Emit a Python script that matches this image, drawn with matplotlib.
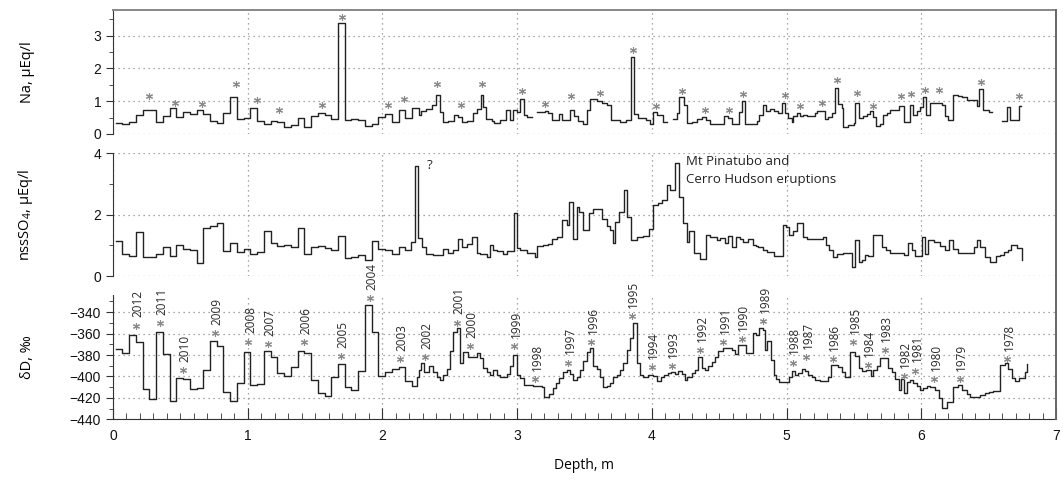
import numpy as np
import matplotlib.pyplot as plt
from matplotlib.lines import Line2D
from matplotlib.ticker import MultipleLocator

plt.rcParams['font.family'] = ['Liberation Sans', 'DejaVu Sans']
plt.rcParams['mathtext.default'] = 'regular'
LABEL_FONT = ['Open Sans', 'DejaVu Sans']

# ---- Na, ueq/l (step series: top depth of each sample, value) ----
na_depth = [0.02, 0.07, 0.12, 0.17, 0.22, 0.27, 0.32, 0.37, 0.42, 0.47,
            0.52, 0.57, 0.62, 0.67, 0.72, 0.77, 0.82, 0.87, 0.92, 0.97,
            1.02, 1.07, 1.12, 1.17, 1.22, 1.27, 1.32, 1.37, 1.42, 1.47,
            1.52, 1.57, 1.62, 1.67, 1.72, 1.77, 1.82, 1.87, 1.92, 1.97,
            2.02, 2.07, 2.12, 2.17, 2.22,
            2.27, 2.29, 2.32, 2.37, 2.40, 2.43, 2.45, 2.49, 2.53, 2.56,
            2.59, 2.63, 2.67, 2.70, 2.73, 2.75, 2.77, 2.81, 2.83, 2.87,
            2.92, 2.95, 2.97, 3.00, 3.02, 3.05, 3.07, 3.11, 3.15, 3.21,
            3.23, 3.26, 3.31, 3.33, 3.39, 3.42, 3.455, 3.49, 3.515, 3.54,
            3.59, 3.63, 3.665, 3.70, 3.765, 3.81, 3.843, 3.868, 3.90, 3.957,
            3.987, 4.007, 4.041, 4.086, 4.111, 4.16, 4.185, 4.205, 4.239, 4.259,
            4.296, 4.333, 4.37, 4.403, 4.432, 4.477, 4.536, 4.568, 4.593, 4.65,
            4.67, 4.69, 4.742, 4.779, 4.799, 4.823, 4.848, 4.878, 4.903, 4.94,
            4.964, 4.989, 5.014, 5.039, 5.051, 5.076, 5.101, 5.125, 5.15, 5.212,
            5.224, 5.286, 5.311, 5.336, 5.36, 5.385, 5.41, 5.422, 5.459, 5.497,
            5.509, 5.534, 5.571, 5.596, 5.62, 5.645, 5.665, 5.695, 5.714, 5.744,
            5.769, 5.806, 5.838, 5.868, 5.917, 5.937, 5.967, 5.992, 6.016, 6.036,
            6.066, 6.098, 6.152, 6.177, 6.202, 6.239, 6.276, 6.301, 6.338, 6.412,
            6.432, 6.457, 6.499, 6.524, 6.598, 6.635, 6.66, 6.722]
na_val = [0.34, 0.32, 0.38, 0.58, 0.72, 0.72, 0.36, 0.54, 0.78, 0.52,
          0.67, 0.62, 0.73, 0.61, 0.40, 0.35, 0.64, 1.14, 0.46, 0.49,
          0.80, 0.40, 0.30, 0.39, 0.36, 0.20, 0.26, 0.49, 0.21, 0.54,
          0.64, 0.58, 0.47, 3.37, 0.42, 0.46, 0.43, 0.23, 0.31, 0.52,
          0.61, 0.36, 0.74, 0.48, 0.78,
          0.58, 0.69, 0.77, 0.89, 1.20, 0.67, 0.36, 0.39, 0.59, 0.52,
          0.38, 0.41, 0.64, 0.77, 1.20, 0.83, 0.46, 0.39, 0.34, 0.42,
          0.74, 0.42, 0.72, 0.66, 1.07, 0.59, 0.52, np.nan, 0.66, 0.71,
          0.64, 0.44, 0.62, 0.44, 0.72, 0.56, 0.39, 0.29, 0.74, 1.07,
          1.00, 0.93, 0.87, 0.44, 0.36, 0.44, 2.36, 0.62, 0.49, 0.44,
          0.31, 0.68, 0.58, 0.38, np.nan, 0.46, 0.64, 1.12, 0.87, 0.34,
          0.37, 0.46, 0.51, 0.42, 0.32, 0.29, 0.56, 0.49, 0.32, 0.66,
          1.00, 0.32, 0.31, 0.39, 0.59, 0.87, 0.69, 0.77, 0.69, 0.64,
          0.95, 0.64, 0.49, 0.36, 0.54, 0.64, 0.54, 0.59, 0.54, 0.64,
          0.69, 0.46, 0.52, 0.64, 1.41, 0.90, 0.80, 0.21, 0.26, 0.34,
          0.93, 0.49, 0.54, 0.61, 0.69, 0.52, 0.23, 0.29, 0.59, 0.64,
          0.74, 0.74, 0.85, 0.36, 0.89, 0.59, 0.69, 0.83, 1.13, 0.59,
          0.95, 0.93, 0.87, 0.54, 0.42, 1.18, 1.15, 1.13, 1.05, 0.85,
          1.36, 0.72, 0.66, np.nan, 0.39, 0.83, 0.44, 0.85]
na_end = 6.741

na_star_depth = [0.267, 0.458, 0.658, 0.913, 1.072, 1.233, 1.549, 1.703, 2.039, 2.161,
                 2.408, 2.581, 2.737, 3.034, 3.207, 3.400, 3.616, 3.863, 4.029, 4.224,
                 4.395, 4.573, 4.680, 4.989, 5.096, 5.261, 5.373, 5.526, 5.645, 5.848,
                 5.925, 6.029, 6.135, 6.442, 6.729]
na_star_val = [1.15, 0.93, 0.91, 1.51, 1.03, 0.72, 0.87, 3.58, 0.87, 1.08,
               1.51, 0.87, 1.51, 1.31, 0.90, 1.17, 1.26, 2.55, 0.85, 1.31,
               0.72, 0.72, 1.22, 1.20, 0.85, 0.93, 1.64, 1.26, 0.85, 1.17,
               1.23, 1.34, 1.34, 1.58, 1.17]

# ---- nssSO4, ueq/l ----
so4_depth = [0.02, 0.07, 0.12, 0.17, 0.22, 0.27, 0.32, 0.37, 0.42, 0.47,
             0.52, 0.57, 0.62, 0.67, 0.72, 0.77, 0.82, 0.87, 0.92, 0.97,
             1.02, 1.07, 1.12, 1.17, 1.22, 1.27, 1.32, 1.37, 1.42, 1.47,
             1.52, 1.57, 1.62, 1.67, 1.72, 1.77, 1.82, 1.87, 1.92, 1.97,
             2.02, 2.07, 2.12, 2.17,
             2.21, 2.24, 2.265, 2.295, 2.324, 2.378, 2.452, 2.489, 2.522, 2.564,
             2.588, 2.626, 2.663, 2.70, 2.725, 2.774, 2.799, 2.824, 2.853, 2.898,
             2.927, 2.977, 3.002, 3.021, 3.071, 3.133, 3.15, 3.19, 3.232, 3.257,
             3.299, 3.331, 3.368, 3.388, 3.418, 3.442, 3.462, 3.492, 3.536, 3.566,
             3.628, 3.665, 3.69, 3.71, 3.727, 3.759, 3.794, 3.814, 3.843, 3.888,
             3.932, 3.982, 4.007, 4.049, 4.073, 4.111, 4.135, 4.172, 4.205, 4.234,
             4.259, 4.279, 4.313, 4.358, 4.403, 4.432, 4.482, 4.507, 4.544, 4.568,
             4.593, 4.625, 4.655, 4.68, 4.717, 4.754, 4.774, 4.791, 4.828, 4.853,
             4.903, 4.972, 4.997, 5.021, 5.051, 5.081, 5.12, 5.15, 5.269, 5.294,
             5.318, 5.348, 5.373, 5.422, 5.484, 5.509, 5.534, 5.558, 5.583, 5.608,
             5.64, 5.707, 5.739, 5.769, 5.868, 5.905, 5.93, 5.954, 6.004, 6.029,
             6.053, 6.091, 6.14, 6.177, 6.209, 6.239, 6.276, 6.338, 6.388, 6.417,
             6.437, 6.474, 6.511, 6.556, 6.581, 6.615, 6.647, 6.665, 6.709]
so4_val = [1.15, 0.71, 0.64, 1.43, 0.63, 0.62, 0.73, 0.95, 0.64, 1.02,
           0.88, 0.84, 0.43, 1.55, 1.63, 1.74, 0.83, 1.07, 0.78, 0.89,
           0.71, 0.79, 1.48, 1.09, 0.97, 1.00, 0.93, 1.57, 0.72, 0.96,
           0.98, 0.91, 0.85, 1.30, 0.58, 0.61, 0.67, 0.52, 1.14, 0.89,
           0.84, 0.73, 0.96, 0.85,
           1.10, 3.59, 1.23, 0.96, 0.71, 0.67, 0.87, 0.76, 0.85, 1.22,
           0.96, 1.03, 1.28, 0.74, 0.71, 0.61, 1.01, 0.85, 0.80, 0.73,
           0.82, 2.04, 0.90, 0.85, 0.74, 0.61, 0.98, 1.02, 1.04, 1.20,
           1.28, 1.83, 1.66, 2.40, 1.22, 2.26, 2.10, 1.50, 2.04, 2.18,
           1.85, 1.63, 1.50, 1.07, 1.77, 2.10, 2.80, 1.93, 1.17, 1.28,
           1.30, 1.52, 2.32, 2.37, 2.48, 2.97, 2.80, 3.67, 2.59, 1.72,
           1.12, 1.48, 0.74, 0.54, 1.34, 1.28, 1.17, 1.23, 1.07, 1.30,
           0.96, 1.28, 1.20, 1.10, 1.20, 1.02, 0.98, 0.96, 0.85, 0.78,
           0.65, 1.66, 1.59, 1.34, 1.48, 1.72, 1.26, 1.20, 1.26, 1.01,
           0.85, 0.63, 0.71, 0.76, 0.30, 1.17, 0.47, 0.52, 0.68, 0.65,
           1.34, 0.96, 0.85, 0.76, 0.68, 1.07, 0.85, 0.65, 1.28, 0.72,
           1.17, 1.12, 0.98, 0.85, 1.17, 0.87, 0.74, 0.76, 0.96, 1.17,
           0.96, 0.63, 0.47, 0.65, 0.68, 0.79, 0.85, 1.01, 0.90]
so4_end = 6.746
so4_last = 0.52

# ---- deltaD, permil ----
dd_depth = [0.02, 0.07, 0.12, 0.17, 0.22, 0.27, 0.32, 0.37, 0.42, 0.47,
            0.52, 0.57, 0.62, 0.67, 0.72, 0.77, 0.82, 0.87, 0.92, 0.97,
            1.02, 1.07, 1.12, 1.17, 1.22, 1.27, 1.32, 1.37, 1.42, 1.47,
            1.52, 1.57, 1.62, 1.67, 1.72, 1.77, 1.82, 1.87, 1.92, 1.97,
            2.02, 2.07, 2.12, 2.17,
            2.22, 2.255, 2.27, 2.285, 2.309, 2.348, 2.378, 2.403, 2.428, 2.452,
            2.477, 2.502, 2.527, 2.551, 2.576, 2.601, 2.638, 2.70, 2.725, 2.749,
            2.774, 2.799, 2.824, 2.848, 2.873, 2.898, 2.923, 2.947, 2.972, 2.997,
            3.022, 3.051, 3.121, 3.182, 3.20, 3.239, 3.264, 3.289, 3.314, 3.338,
            3.368, 3.393, 3.418, 3.442, 3.467, 3.492, 3.517, 3.541, 3.566, 3.591,
            3.616, 3.64, 3.665, 3.69, 3.715, 3.739, 3.764, 3.789, 3.814, 3.838,
            3.863, 3.893, 3.913, 3.937, 3.974, 4.012, 4.041, 4.066, 4.091, 4.123,
            4.14, 4.172, 4.197, 4.222, 4.247, 4.259, 4.296, 4.321, 4.346, 4.37,
            4.395, 4.42, 4.445, 4.469, 4.494, 4.531, 4.593, 4.618, 4.643, 4.70,
            4.749, 4.774, 4.799, 4.823, 4.841, 4.858, 4.883, 4.903, 4.922, 4.947,
            4.977, 5.021, 5.039, 5.063, 5.088, 5.113, 5.138, 5.162, 5.187, 5.212,
            5.249, 5.311, 5.328, 5.385, 5.41, 5.435, 5.472, 5.509, 5.534, 5.558,
            5.591, 5.625, 5.645, 5.67, 5.695, 5.756, 5.781, 5.806, 5.831, 5.848,
            5.873, 5.893, 5.917, 5.942, 5.967, 5.992, 6.016, 6.041, 6.066, 6.103,
            6.128, 6.152, 6.19, 6.239, 6.276, 6.301, 6.338, 6.363, 6.437, 6.474,
            6.499, 6.536, 6.586, 6.623, 6.647, 6.672, 6.697, 6.722, 6.771]
dd_val = [-374.6, -378.3, -361.5, -367.4, -412.0, -421.0, -358.1, -378.9, -422.5, -401.0,
          -402.3, -411.6, -410.7, -393.9, -366.5, -371.8, -414.4, -423.2, -405.7, -376.8,
          -407.9, -407.3, -376.1, -382.0, -397.0, -399.8, -391.4, -375.8, -377.7, -403.2,
          -415.1, -417.9, -400.7, -388.0, -410.1, -412.6, -394.8, -333.1, -358.1, -399.5,
          -395.4, -393.3, -390.8, -404.2,
          -408.8, -400.7, -393.9, -387.0, -395.4, -390.2, -395.4, -400.1, -403.2, -398.6,
          -393.3, -376.1, -358.1, -355.0, -387.0, -376.8, -381.4, -377.7, -383.0, -392.3,
          -395.4, -398.6, -393.9, -398.6, -400.1, -400.7, -397.6, -390.2, -379.9, -398.6,
          -401.7, -407.9, -408.8, -410.1, -419.4, -416.6, -411.0, -406.3, -401.7, -395.4,
          -393.9, -397.6, -403.2, -400.1, -393.9, -385.2, -376.8, -373.6, -390.2, -393.3,
          -400.1, -409.5, -408.8, -405.7, -400.1, -398.6, -393.9, -387.7, -375.2, -364.3,
          -350.3, -387.7, -398.6, -400.1, -398.6, -399.5, -403.9, -400.7, -398.6, -397.0,
          -395.4, -397.6, -394.5, -397.6, -403.2, -400.7, -396.4, -393.9, -381.4, -392.3,
          -393.9, -390.2, -386.1, -382.1, -376.1, -373.6, -375.2, -378.9, -370.5, -377.7,
          -359.6, -361.2, -355.0, -356.5, -375.2, -366.5, -384.5, -398.6, -402.6, -404.8,
          -405.4, -400.1, -394.5, -398.6, -397.0, -393.3, -394.5, -398.6, -400.7, -403.2,
          -403.9, -400.1, -389.2, -391.4, -395.4, -400.1, -376.8, -380.8, -392.3, -394.5,
          -393.9, -399.5, -393.9, -390.2, -383.0, -392.3, -395.4, -402.6, -412.6, -402.6,
          -415.7, -404.8, -403.2, -406.3, -408.8, -412.6, -411.0, -408.8, -409.5, -412.6,
          -420.4, -429.1, -423.5, -409.5, -407.9, -412.6, -416.6, -418.8, -417.3, -415.7,
          -414.1, -413.5, -389.2, -387.7, -393.3, -401.7, -403.9, -401.7, -395.4]
dd_end = 6.788
dd_last = -388.3

years = ['2012', '2011', '2010', '2009', '2008', '2007', '2006', '2005', '2004', '2003',
         '2002', '2001', '2000', '1999', '1998', '1997', '1996', '1995', '1994', '1993',
         '1992', '1991', '1990', '1989', '1988', '1987', '1986', '1985', '1984', '1983',
         '1982', '1981', '1980', '1979', '1978']
yr_depth = [0.168, 0.349, 0.522, 0.757, 1.005, 1.153, 1.418, 1.690, 1.908, 2.131,
            2.317, 2.551, 2.650, 2.977, 3.133, 3.380, 3.549, 3.851, 3.999, 4.148,
            4.358, 4.531, 4.667, 4.828, 5.046, 5.145, 5.343, 5.492, 5.603, 5.727,
            5.868, 5.954, 6.098, 6.284, 6.635]
yr_dd = [-352.5, -350.3, -393.9, -359.6, -367.4, -369.9, -368.3, -380.8, -326.9, -383.6,
         -382.1, -349.7, -371.5, -371.5, -402.6, -387.0, -368.3, -344.0, -391.4, -390.2,
         -375.2, -368.3, -365.2, -348.4, -387.0, -382.1, -383.6, -368.3, -389.2, -375.2,
         -399.5, -394.5, -402.6, -402.6, -383.6]

LINE_C = '#222222'
STAR_C = '#8a8a8a'
GRID_C = '#8c8c8c'


def draw_steps(ax, depth, val, end, last):
    x = np.append(depth, end)
    y = np.append(val, last)
    ax.step(x, y, where='post', color=LINE_C, lw=1.0)


def style(ax, bottom_axis=False):
    ax.set_xlim(0, 7)
    ax.xaxis.set_major_locator(MultipleLocator(1))
    ax.grid(True, which='major', color=GRID_C, ls=(0, (1, 3)), lw=0.9)
    for s in ['top', 'right']:
        ax.spines[s].set_visible(False)
    ax.spines['left'].set_color('#333333')
    ax.tick_params(axis='y', which='both', direction='out', colors='#333333',
                   labelcolor='#111111', labelsize=10)
    ax.tick_params(axis='y', which='major', length=5)
    ax.tick_params(axis='y', which='minor', length=3)
    if bottom_axis:
        ax.xaxis.set_minor_locator(MultipleLocator(0.1))
        ax.spines['bottom'].set_color('#333333')
        ax.tick_params(axis='x', which='both', direction='in', colors='#333333',
                       labelcolor='#111111', labelsize=10, pad=7)
        ax.tick_params(axis='x', which='major', length=8)
        ax.tick_params(axis='x', which='minor', length=4)
    else:
        ax.spines['bottom'].set_visible(False)
        ax.tick_params(axis='x', which='both', bottom=False, labelbottom=False)
    ax.yaxis.set_label_coords(-0.083, 0.5)


fig = plt.figure(figsize=(10.63, 4.83), dpi=100)
L, W = 113 / 1063, 943 / 1063
ax1 = fig.add_axes([L, 1 - 134 / 483, W, 124 / 483])
ax2 = fig.add_axes([L, 1 - 276 / 483, W, 122.7 / 483])
ax3 = fig.add_axes([L, 1 - 419.3 / 483, W, 124.3 / 483])

# Na panel
draw_steps(ax1, na_depth, na_val, na_end, na_val[-1])
ax1.plot(na_star_depth, na_star_val, ls='none', marker=(6, 2, 0), ms=5,
         mew=0.8, color=STAR_C)
ax1.set_ylim(0, 3.78)
ax1.yaxis.set_major_locator(MultipleLocator(1))
ax1.yaxis.set_minor_locator(MultipleLocator(0.5))
style(ax1)
ax1.spines['top'].set_visible(True)
ax1.spines['top'].set_color('#888888')
ax1.spines['top'].set_linewidth(1.4)
ax1.set_ylabel('Na, µEq/l', family=LABEL_FONT, fontsize=10.5)

# nssSO4 panel
draw_steps(ax2, so4_depth, so4_val, so4_end, so4_last)
ax2.set_ylim(0, 4)
ax2.yaxis.set_major_locator(MultipleLocator(2))
ax2.yaxis.set_minor_locator(MultipleLocator(1))
style(ax2)
ax2.set_ylabel('nssSO$_4$, µEq/l', family=LABEL_FONT, fontsize=10.5)
ax2.text(2.33, 3.6, '?', fontsize=9.5, family=LABEL_FONT, color='#222222',
         ha='left', va='center')
ax2.text(4.25, 3.93, 'Mt Pinatubo and\nCerro Hudson eruptions', fontsize=9.5,
         family=LABEL_FONT, color='#222222', ha='left', va='top', linespacing=1.45)

# deltaD panel
draw_steps(ax3, dd_depth, dd_val, dd_end, dd_last)
ax3.plot(yr_depth, yr_dd, ls='none', marker=(6, 2, 0), ms=5, mew=0.8,
         color=STAR_C)
for yr, d, v in zip(years, yr_depth, yr_dd):
    ax3.annotate(yr, (d, v), xytext=(1.5, 6), textcoords='offset points',
                 rotation=90, ha='center', va='bottom', fontsize=8.5,
                 family=LABEL_FONT, color='#2a2a2a', annotation_clip=False)
ax3.set_ylim(-440, -324)
ax3.yaxis.set_major_locator(MultipleLocator(20))
ax3.yaxis.set_minor_locator(MultipleLocator(10))
style(ax3, bottom_axis=True)
ax3.set_ylabel('δD, ‰', family=LABEL_FONT, fontsize=10.5)
ax3.set_xlabel('Depth, m', family=LABEL_FONT, fontsize=10, labelpad=11)

# right frame line spanning the three panels
xr = 1056 / 1063
fig.add_artist(Line2D([xr, xr], [1 - 419.3 / 483, 1 - 10 / 483],
                      transform=fig.transFigure, color='#666666', lw=1.4))

fig.savefig('out.png', dpi=100)
